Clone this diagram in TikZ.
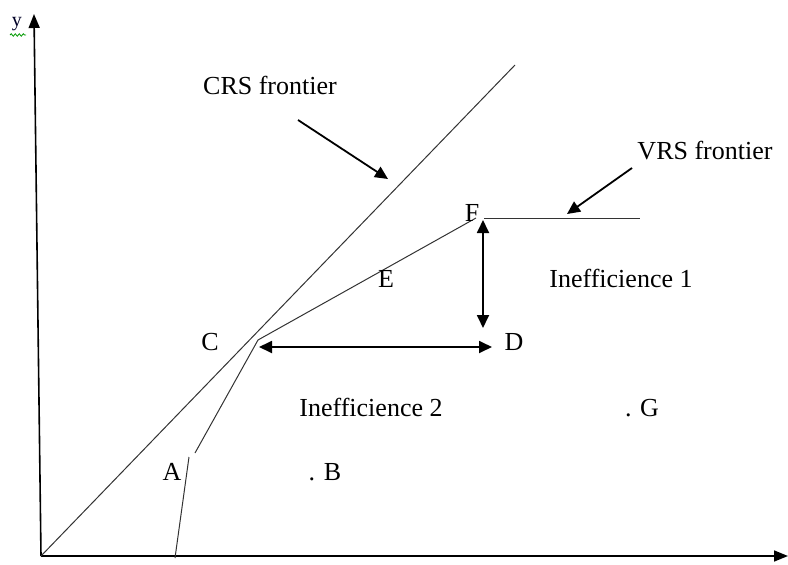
\documentclass[tikz,border=0pt]{standalone}
\usepackage{fontspec}
\setmainfont{Liberation Serif}
\usetikzlibrary{arrows.meta,decorations.pathmorphing}
\tikzset{
  thinline/.style={line width=1pt,black!80},
  axisline/.style={line width=1.6pt,black,-{Triangle[length=14pt,width=11pt]}},
  dblarrow/.style={line width=1.8pt,black,{Triangle[length=13pt,width=12pt]}-{Triangle[length=13pt,width=12pt]}},
  onearrow/.style={line width=1.8pt,black,-{Triangle[length=13pt,width=12pt]}},
  lbl/.style={font=\fontsize{26}{30}\selectfont,inner sep=0pt}
}
\begin{document}
\begin{tikzpicture}[x=1pt,y=-1pt]
\useasboundingbox (0,0) rectangle (788,565);
% points
\coordinate (O) at (41,556);
\coordinate (Ytop) at (34,14);
\coordinate (Xend) at (788,556);
\coordinate (CRSend) at (515,65);
\coordinate (A0) at (175,558);
\coordinate (A1) at (189,457);
\coordinate (A2) at (195,453);
\coordinate (Cp) at (258,340);
\coordinate (Fp) at (476,218);
\coordinate (F2) at (484,218);
\coordinate (Vend) at (640,218);
\coordinate (H1) at (259,347);
\coordinate (H2) at (492,347);
\coordinate (V1) at (483,220);
\coordinate (V2) at (483,328);
\coordinate (c1) at (298,120);
\coordinate (c2) at (388,179);
\coordinate (v1) at (632,168);
\coordinate (v2) at (567,214);
% axes
\draw[axisline] (O) -- (Ytop);
\draw[axisline] (O) -- (Xend);
% frontiers
\draw[thinline] (O) -- (CRSend);
\draw[thinline] (A0) -- (A1);
\draw[thinline] (A2) -- (Cp) -- (Fp);
\draw[thinline] (F2) -- (Vend);
% arrows
\draw[dblarrow] (H1) -- (H2);
\draw[dblarrow] (V1) -- (V2);
\draw[onearrow] (c1) -- (c2);
\draw[onearrow] (v1) -- (v2);
% labels
\node[font=\fontsize{20}{24}\selectfont,inner sep=0pt,text=black!85!blue] (ylab) at (17,24) {y};
\draw[green!60!black,line width=0.8pt,decorate,decoration={snake,amplitude=1.2pt,segment length=4pt}] (10,35) -- (26,35);
\node[lbl] (crs) at (270,85) {CRS frontier};
\node[lbl] (vrs) at (705,151) {VRS frontier};
\node[lbl] (F) at (472,213) {F};
\node[lbl] (E) at (386,279) {E};
\node[lbl] (I1) at (621,278) {Inefficience 1};
\node[lbl] (C) at (210,342) {C};
\node[lbl] (D) at (514,342) {D};
\node[lbl] (I2) at (371,407) {Inefficience 2};
\node[lbl] (G) at (642,408) {. G};
\node[lbl] (A) at (172,472) {A};
\node[lbl] (B) at (325,472) {. B};
\end{tikzpicture}
\end{document}
